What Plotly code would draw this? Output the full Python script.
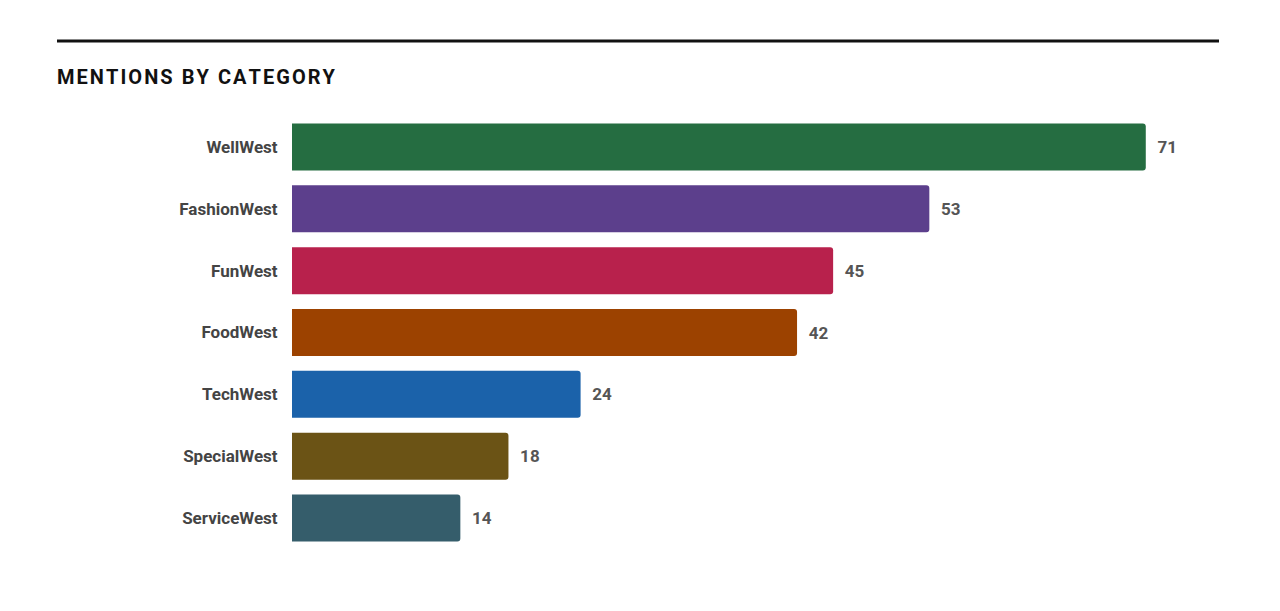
import plotly.graph_objects as go

categories = ["WellWest", "FashionWest", "FunWest", "FoodWest", "TechWest", "SpecialWest", "ServiceWest"]
mentions = [71, 53, 45, 42, 24, 18, 14]
colors = ["#256D41", "#5C3F8C", "#B8214C", "#9C4200", "#1B62AA", "#6B5315", "#355D6B"]

FONT = "Roboto, DejaVu Sans Condensed, sans-serif"

fig = go.Figure(go.Bar(
    x=mentions,
    y=categories,
    orientation="h",
    marker=dict(color=colors, line=dict(width=0)),
    text=[f"\u2002<b>{v}</b>" for v in mentions],
    textposition="outside",
    textfont=dict(family=FONT, size=17, color="#555555"),
    cliponaxis=False,
    width=0.76,
    hoverinfo="skip",
))

title = "MENTIONS BY CATEGORY"
spaced = "\u200a".join(title)

fig.update_layout(
    width=1280, height=611,
    margin=dict(l=292, r=26, t=116, b=62),
    plot_bgcolor="white", paper_bgcolor="white",
    barcornerradius=3,
    showlegend=False,
    xaxis=dict(range=[0, 80], visible=False, fixedrange=True),
    yaxis=dict(
        autorange="reversed",
        tickfont=dict(family=FONT, size=17, color="#444444", weight="bold"),
        showgrid=False, zeroline=False, showline=False,
        ticks="outside", ticklen=10, tickcolor="rgba(0,0,0,0)",
    ),
    shapes=[dict(
        type="line", xref="paper", yref="paper",
        x0=(57 - 292) / 962, x1=(1219 - 292) / 962,
        y0=(549 - 41) / 433, y1=(549 - 41) / 433,
        line=dict(color="#111111", width=3),
    )],
    annotations=[dict(
        text=f"<b>{spaced}</b>", xref="paper", yref="paper",
        x=(57 - 292) / 962, y=(549 - 77) / 433, xshift=-2,
        xanchor="left", yanchor="middle", showarrow=False,
        font=dict(family=FONT, size=20, color="#111111", weight=900),
    )],
)

fig.write_html("out.html")
